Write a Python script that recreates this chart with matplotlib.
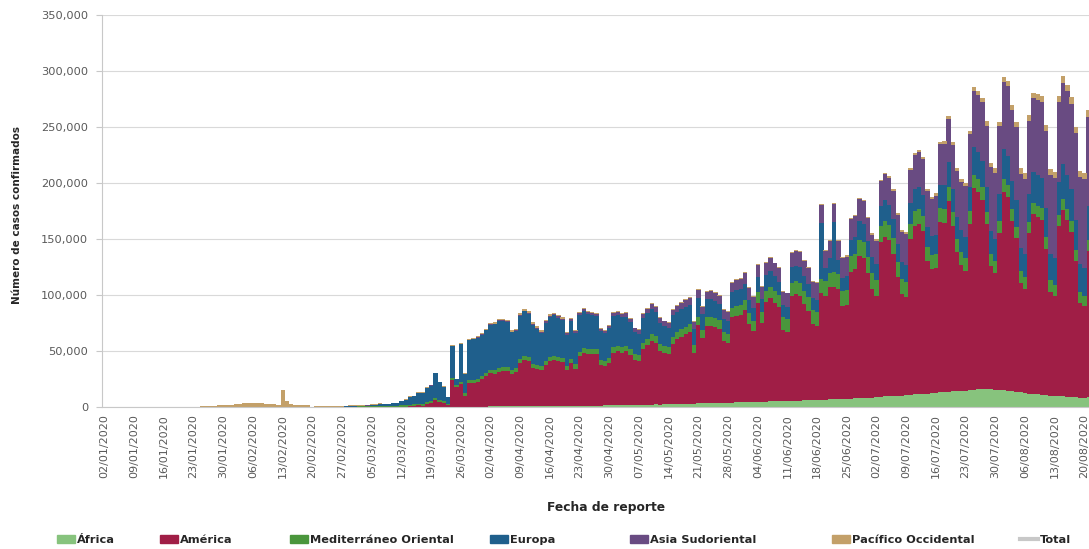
import matplotlib
matplotlib.use('Agg')
import matplotlib.pyplot as plt
from matplotlib.patches import Patch
from matplotlib.lines import Line2D
from matplotlib.ticker import FuncFormatter
import numpy as np
import pandas as pd

plt.rcParams['font.family'] = ['DejaVu Sans']

# Casos confirmados diarios por región OMS (miles), desde el 02/01/2020
fecha_inicio = '2020-01-02'

africa = [
    0, 0, 0, 0, 0, 0, 0, 0, 0, 0,
    0, 0, 0, 0, 0, 0, 0, 0, 0, 0,
    0, 0, 0, 0, 0, 0, 0, 0, 0, 0,
    0, 0, 0, 0, 0, 0, 0, 0, 0, 0,
    0, 0, 0, 0, 0, 0, 0, 0, 0, 0,
    0, 0, 0, 0, 0, 0, 0, 0, 0, 0,
    0, 0, 0, 0, 0, 0, 0, 0, 0, 0,
    0.02, 0.02, 0.03, 0.05, 0.05, 0.08, 0.1, 0.1, 0.15, 0.15,
    0.15, 0.1, 0.2, 0.2, 0.2, 0.2, 0.3, 0.3, 0.3, 0.4,
    0.4, 0.5, 0.5, 0.6, 0.5, 0.5, 0.5, 0.5, 0.6, 0.6,
    0.7, 0.7, 0.7, 0.7, 0.8, 0.8, 0.9, 0.9, 0.9, 1.0,
    1.0, 1.0, 1.1, 1.2, 1.2, 1.2, 1.3, 1.3, 1.4, 1.5,
    1.6, 1.6, 1.6, 1.8, 1.8, 1.8, 1.9, 2.0, 2.1, 2.2,
    2.3, 2.2, 2.3, 2.4, 2.5, 2.6, 2.7, 2.8, 3.0, 3.0,
    3.2, 3.3, 3.4, 3.5, 3.6, 3.7, 3.6, 3.7, 4.0, 4.1,
    4.3, 4.5, 4.4, 4.5, 4.7, 4.6, 4.8, 5.0, 5.1, 5.2,
    5.0, 5.0, 5.4, 5.6, 5.8, 6.0, 6.0, 6.1, 6.2, 6.5,
    6.5, 6.8, 7.0, 7.0, 7.0, 7.1, 7.5, 7.8, 8.0, 8.2,
    8.2, 8.3, 8.5, 9.0, 9.5, 9.8, 10, 10, 10.2, 10.3,
    11, 11.5, 12, 12, 12, 12.2, 12.5, 13, 13.5, 13.8,
    14, 14, 14.2, 14.5, 15, 15.5, 16, 16, 16, 16,
    15.5, 15.5, 15, 14.5, 14, 13.5, 13, 12.5, 12, 12,
    11.5, 11, 10.5, 10, 9.5, 9.5, 9.5, 9, 9, 8.5,
    8, 8, 8.5,
]

america = [
    0, 0, 0, 0, 0, 0, 0, 0, 0, 0,
    0, 0, 0, 0, 0, 0, 0, 0, 0, 0,
    0, 0, 0, 0, 0, 0, 0, 0, 0, 0,
    0, 0, 0, 0, 0, 0, 0, 0, 0, 0,
    0, 0, 0, 0, 0, 0, 0, 0, 0, 0,
    0, 0, 0, 0, 0, 0, 0, 0, 0, 0.01,
    0.02, 0.02, 0.03, 0.05, 0.05, 0.1, 0.1, 0.1, 0.2, 0.3,
    0.4, 0.4, 0.8, 0.8, 1.3, 1.0, 2.5, 3.5, 6.5, 4.5,
    3.8, 1.5, 24, 18, 20, 10, 21, 21, 22, 24.5,
    27, 29.5, 29, 31, 32, 32, 29, 31, 39, 41,
    40, 34, 33, 32, 37, 40, 41, 40, 39, 32,
    38, 33, 44, 47, 46, 46, 46, 36, 35, 38,
    47, 48, 47, 48, 45, 40, 39, 50, 53, 57,
    55, 48, 46, 45, 54, 58, 60, 62, 64, 45,
    70, 58, 69, 69, 68, 66, 55, 53, 76, 77,
    78, 82, 70, 63, 88, 70, 89, 92, 88, 84,
    64, 62, 94, 95, 93, 86, 80, 68, 66, 95,
    93, 100, 100, 98, 83, 84, 113, 115, 127, 125,
    111, 97, 91, 138, 142, 139, 127, 106, 91, 88,
    139, 150, 151, 145, 118, 111, 112, 152, 151, 170,
    148, 124, 113, 107, 148, 180, 176, 169, 147, 110,
    104, 140, 177, 173, 152, 137, 98, 93, 143, 160,
    158, 156, 131, 93, 90, 152, 166, 158, 147, 122,
    85, 82, 131,
]

mediterraneo = [
    0, 0, 0, 0, 0, 0, 0, 0, 0, 0,
    0, 0, 0, 0, 0, 0, 0, 0, 0, 0,
    0, 0, 0, 0, 0, 0, 0, 0, 0, 0,
    0, 0, 0, 0, 0, 0, 0, 0, 0, 0,
    0, 0, 0, 0, 0, 0, 0, 0, 0, 0,
    0, 0, 0.03, 0.05, 0.05, 0.1, 0.1, 0.2, 0.3, 0.4,
    0.5, 0.6, 0.8, 0.6, 0.6, 1.2, 0.8, 0.7, 0.9, 1.0,
    1.0, 1.1, 1.3, 1.4, 1.5, 1.5, 1.5, 1.5, 1.5, 1.3,
    1.2, 1.0, 2.0, 1.5, 2.0, 2.0, 2.5, 2.6, 2.7, 2.8,
    3.0, 3.2, 3.3, 3.4, 3.3, 3.4, 3.2, 3.5, 3.6, 3.8,
    3.6, 3.5, 3.6, 3.5, 3.6, 3.7, 3.8, 3.9, 3.8, 3.6,
    4.0, 4.1, 4.2, 4.3, 4.2, 4.3, 4.3, 4.4, 4.5, 4.6,
    4.8, 4.9, 4.7, 5.0, 5.0, 5.1, 5.2, 5.3, 5.5, 5.6,
    5.7, 5.8, 5.9, 6.0, 6.2, 6.4, 6.6, 6.8, 7.0, 7.2,
    7.3, 7.5, 7.6, 7.8, 8.0, 8.2, 8.4, 8.5, 8.7, 8.8,
    9.0, 9.3, 9.5, 9.6, 9.8, 10, 10.2, 10.4, 10.6, 10.8,
    11, 11.2, 11.4, 11.6, 11.8, 12, 12.2, 12.4, 12.6, 13,
    13, 13.2, 13.4, 13.5, 13.6, 13.7, 14, 14.2, 14.4, 14.5,
    14.3, 14.2, 14.1, 14.5, 14.3, 14, 13.8, 13.5, 13.3, 13.2,
    13.5, 13.5, 13.4, 13.2, 12.8, 12.5, 12.3, 12.5, 12.3, 12.2,
    12, 11.8, 11.6, 11.5, 11.8, 12, 11.8, 11.5, 11.3, 11,
    10.8, 11, 11.2, 11, 10.8, 10.6, 10.4, 10.2, 10.4, 10.5,
    10.4, 10.3, 10.2, 10, 9.8, 10, 10.2, 10, 9.8, 9.7,
    9.6, 9.5, 9.8,
]

europa = [
    0, 0, 0, 0, 0, 0, 0, 0, 0, 0,
    0, 0, 0, 0, 0, 0, 0, 0, 0, 0,
    0, 0, 0, 0, 0, 0, 0, 0, 0, 0,
    0, 0, 0, 0, 0, 0, 0, 0, 0, 0,
    0, 0, 0, 0, 0, 0, 0, 0, 0, 0,
    0, 0.02, 0.08, 0.15, 0.1, 0.15, 0.3, 0.4, 0.3, 0.5,
    0.5, 0.6, 0.5, 1.0, 1.3, 1.5, 1.5, 1.5, 2.5, 2.2,
    4.0, 5.0, 7.0, 7.5, 10, 10, 13, 14, 22, 16,
    13, 6, 28, 5, 34, 17, 36, 37, 37, 37,
    38, 40, 41, 42, 41, 40, 34, 33, 38, 40,
    39, 35, 32, 30, 34, 36, 36, 35, 34, 28,
    34, 28, 33, 33, 32, 31, 30, 26, 25, 26,
    28, 28, 27, 26, 24, 20, 19, 22, 23, 23,
    22, 19, 18, 17, 19, 18, 18, 18, 17, 14,
    17, 14, 16, 16, 15, 14, 12, 12, 14, 15,
    14, 14, 12, 11, 14, 12, 14, 14, 13, 12,
    11, 11, 14, 14, 14, 13, 12, 11, 11, 50,
    12, 13, 45, 13, 12, 12, 15, 15, 17, 16,
    15, 14, 14, 18, 19, 18, 17, 16, 15, 15,
    19, 20, 20, 19, 18, 17, 17, 21, 21, 23,
    21, 20, 19, 19, 22, 25, 24, 23, 22, 20,
    20, 24, 27, 26, 25, 24, 21, 21, 25, 27,
    27, 27, 26, 24, 24, 29, 31, 30, 29, 27,
    25, 25, 30,
]

asia_sudoriental = [
    0, 0, 0, 0, 0, 0, 0, 0, 0, 0,
    0, 0, 0, 0, 0, 0, 0, 0, 0, 0,
    0, 0, 0, 0, 0, 0, 0, 0, 0, 0,
    0, 0, 0, 0, 0, 0, 0, 0, 0, 0,
    0, 0, 0, 0, 0, 0, 0, 0, 0, 0,
    0, 0, 0, 0, 0, 0, 0, 0, 0, 0,
    0, 0, 0.01, 0.01, 0.02, 0.02, 0.02, 0.03, 0.03, 0.04,
    0.04, 0.05, 0.05, 0.06, 0.06, 0.08, 0.08, 0.1, 0.1, 0.1,
    0.1, 0.1, 0.2, 0.1, 0.2, 0.2, 0.2, 0.1, 0.2, 0.3,
    0.4, 0.5, 0.6, 0.5, 0.6, 0.7, 0.6, 0.6, 0.8, 0.7,
    0.9, 0.9, 1.0, 1.0, 1.0, 1.1, 1.1, 1.2, 1.2, 1.3,
    1.4, 1.5, 1.5, 1.6, 1.6, 1.8, 1.8, 1.9, 2.0, 2.3,
    2.5, 2.4, 2.6, 3.0, 3.2, 3.3, 3.4, 3.6, 3.8, 4.0,
    4.3, 4.1, 4.2, 4.4, 5.0, 5.3, 5.6, 6.0, 6.5, 6.8,
    7.0, 6.8, 6.5, 7.0, 7.2, 7.0, 7.5, 7.8, 8.2, 8.5,
    9.0, 9.5, 10, 10, 10.5, 10.3, 11, 11.5, 11.5, 12,
    12, 12.2, 12.5, 13, 13.5, 13.5, 14, 14.5, 15, 15.5,
    14.5, 15.5, 16, 16.5, 17, 17.5, 18, 18.5, 19, 20,
    20, 20.5, 21, 22, 23, 24, 25, 26, 27, 28,
    29, 30, 31, 32, 32, 33, 35, 36, 37, 38,
    39, 41, 43, 45, 47, 50, 51, 53, 55, 57,
    59, 60, 60, 62, 63, 65, 66, 67, 65, 66,
    67, 68, 69, 70, 71, 72, 73, 75, 76, 77,
    78, 79, 80,
]

pacifico = [
    0.03, 0, 0, 0.02, 0, 0, 0, 0, 0, 0.01,
    0, 0, 0, 0.01, 0, 0, 0.02, 0.08, 0.14, 0.31,
    0.15, 0.26, 0.26, 0.47, 0.68, 0.80, 1.3, 1.5, 1.74, 2.0,
    2.1, 2.6, 2.8, 3.2, 3.9, 3.7, 3.2, 3.4, 2.7, 3.0,
    2.5, 2.0, 15.2, 5.1, 2.6, 2.0, 2.1, 1.9, 1.8, 0.4,
    1.0, 0.6, 0.7, 0.6, 0.9, 0.9, 0.8, 0.7, 0.9, 1.2,
    0.8, 0.8, 0.7, 0.6, 0.7, 0.7, 0.5, 0.4, 0.3, 0.2,
    0.2, 0.2, 0.25, 0.2, 0.3, 0.3, 0.4, 0.4, 0.5, 0.6,
    0.5, 0.3, 0.8, 0.5, 0.8, 0.8, 1.0, 1.0, 1.0, 1.0,
    1.2, 1.3, 1.4, 1.3, 1.4, 1.4, 1.5, 1.4, 1.6, 1.6,
    1.6, 1.6, 1.6, 1.7, 1.6, 1.5, 1.4, 1.3, 1.3, 1.2,
    1.2, 1.1, 1.0, 1.0, 0.9, 0.9, 0.8, 0.8, 0.7, 0.8,
    0.8, 0.7, 0.7, 0.7, 0.7, 0.7, 0.7, 0.8, 0.8, 0.9,
    0.9, 0.9, 0.8, 0.8, 0.8, 0.7, 0.7, 0.7, 0.7, 0.7,
    0.8, 0.8, 0.8, 0.8, 0.8, 0.8, 0.8, 0.8, 0.9, 0.9,
    0.9, 0.9, 0.8, 0.8, 0.9, 0.8, 0.9, 0.9, 0.8, 0.8,
    0.8, 0.8, 0.9, 0.9, 0.9, 0.9, 0.9, 0.9, 0.9, 1.0,
    1.0, 1.0, 1.0, 1.0, 1.0, 1.0, 1.1, 1.1, 1.2, 1.2,
    1.2, 1.2, 1.3, 1.4, 1.4, 1.5, 1.5, 1.6, 1.6, 1.7,
    1.8, 1.9, 2.0, 2.1, 2.2, 2.2, 2.3, 2.4, 2.5, 2.6,
    2.7, 2.8, 2.9, 3.0, 3.0, 3.2, 3.5, 3.8, 4.0, 4.2,
    4.3, 4.4, 4.5, 4.6, 4.7, 4.8, 4.9, 5.0, 5.0, 5.1,
    5.2, 5.2, 5.3, 5.3, 5.4, 5.5, 5.5, 5.6, 5.6, 5.5,
    5.5, 5.4, 5.5,
]

regiones = ['África', 'América', 'Mediterráneo Oriental', 'Europa',
            'Asia Sudoriental', 'Pacífico Occidental']
series = [africa, america, mediterraneo, europa, asia_sudoriental, pacifico]
colores = ['#87c37d', '#a01e46', '#4a963c', '#1f5f8c', '#694b82', '#c3a069']

fechas = pd.date_range(fecha_inicio, periods=len(africa), freq='D')
dias = np.arange(len(fechas))

fig = plt.figure(figsize=(10.89, 5.49), dpi=100)
ax = fig.add_axes([102 / 1089, 142 / 549, 990 / 1089, 392 / 549])

# barras apiladas
base = np.zeros(len(dias))
for serie, color in zip(series, colores):
    valores = np.array(serie) * 1000
    ax.bar(dias, valores, bottom=base, width=1.02, color=color, linewidth=0, zorder=2)
    base += valores

ax.set_xlim(-0.6, 232.8)
ax.set_ylim(0, 350000)
ax.set_yticks(range(0, 350001, 50000))
ax.yaxis.set_major_formatter(FuncFormatter(lambda v, p: f'{int(v):,}'))
ax.yaxis.grid(True, color='#d9d9d9', linewidth=0.8)
ax.set_axisbelow(True)

ax.set_xticks(dias[::7])
ax.set_xticklabels(fechas[::7].strftime('%d/%m/%Y'), rotation=90)

for lado in ['top', 'right']:
    ax.spines[lado].set_visible(False)
ax.spines['left'].set_color('#c8c8c8')
ax.spines['bottom'].set_color('#c8c8c8')
ax.tick_params(axis='y', labelsize=8.2, colors='#595959', length=4, color='#c8c8c8', pad=6)
ax.tick_params(axis='x', labelsize=8, colors='#595959', length=0, pad=5)

fig.text(17 / 1089, (549 - 215) / 549, 'Número de casos confirmados', rotation=90,
         ha='center', va='center', fontsize=7.5, fontweight='bold', color='#262626')
fig.text(606 / 1089, (549 - 508) / 549, 'Fecha de reporte', ha='center', va='center',
         fontsize=8.8, fontweight='bold', color='#262626')

# leyenda
handles = [Patch(color=c) for c in colores]
handles.append(Line2D([0], [0], color='#c8c8c8', lw=3))
nombres = regiones + ['Total']
posiciones = [57, 160, 290, 490, 630, 832, 1020]
for h, nombre, x in zip(handles, nombres, posiciones):
    fig.legend(handles=[h], labels=[nombre], loc='center left',
               bbox_to_anchor=(x / 1089, (549 - 540) / 549), frameon=False,
               prop={'weight': 'bold', 'size': 8.2}, handlelength=1.6, handleheight=0.6,
               handletextpad=0.15, borderpad=0, borderaxespad=0, labelcolor='#262626')

fig.savefig('out.png', dpi=100)
